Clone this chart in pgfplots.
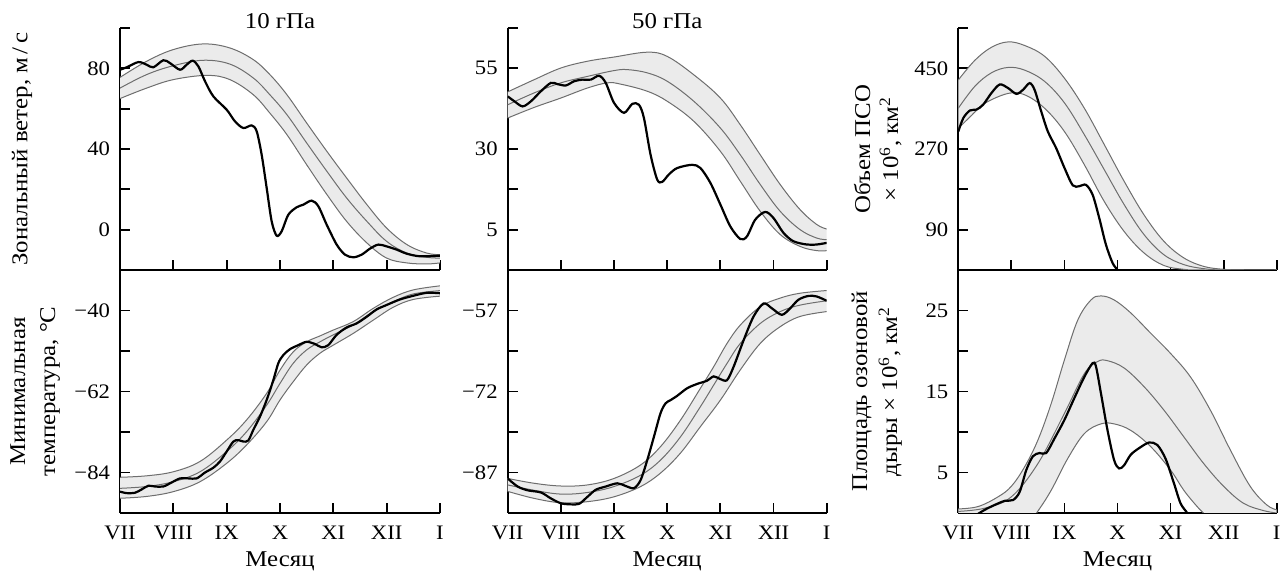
\documentclass[border=0pt]{standalone}
\usepackage{fontspec}
\setmainfont{Liberation Serif}[FakeStretch=1.1]
\usepackage{pgfplots}
\pgfplotsset{compat=1.18}
\usepgfplotslibrary{fillbetween}
\definecolor{bandfill}{RGB}{235,235,235}
\definecolor{bandline}{RGB}{110,110,110}
\newcommand{\ticksize}{\fontsize{10.3}{12}\selectfont}
\newcommand{\labsize}{\fontsize{11.3}{15}\selectfont}
\pgfplotsset{
 panel/.style={
  scale only axis, height=121pt,
  axis x line*=bottom, axis y line*=left,
  axis line style={line width=1pt,-},
  every outer x axis line/.append style={-},
  every outer y axis line/.append style={-},
  major tick style={line width=0.9pt, black},
  major tick length=5pt,
  tick align=inside,
  xmin=0, xmax=6, xtick={0,1,2,3,4,5,6},
  tick label style={font=\ticksize},
  yticklabel style={xshift=-1.5pt},
  every axis y label/.style={rotate=90, anchor=center, font=\labsize, align=center},
  /pgf/number format/assume math mode=true,
 },
 toprow/.style={xticklabels={}},
 botrow/.style={xticklabels={VII,VIII,IX,X,XI,XII,I},
   xticklabel style={anchor=base, yshift=-13.5pt},
   xlabel={Месяц},
   every axis x label/.style={at={(axis description cs:0.5,0)}, anchor=base, yshift=-26.8pt, font=\labsize}},
 band/.style={draw=bandline, line width=0.5pt, smooth, tension=0.6},
 obs/.style={black, line width=1.1pt, smooth, tension=0.5},
 ttl/.style={every axis title/.style={at={(axis description cs:0.5,1)}, anchor=base, yshift=-0.5pt, font=\fontsize{11.3}{12}\selectfont}},
}
\begin{document}
\begin{tikzpicture}
% ---------- P1: zonal wind 10 hPa
\begin{axis}[panel, toprow, ttl, title={10 гПа}, width=160pt, at={(60pt,-135pt)}, anchor=south west,
  ymin=-20, ymax=100, ytick={0,20,40,60,80,100}, yticklabels={0,,40,,80,},
  ylabel={Зональный ветер, м\,/\,с}, ylabel style={at={(axis description cs:-0.306,0.5)}}]
\addplot[band, name path=U] coordinates {(0,75.5)(0.5,83.5)(1,89.3)(1.56,92.1)(2.06,90.1)(2.5,84.3)(2.81,76.9)(3.13,66.9)(3.5,52.9)(3.88,38.8)(4.25,25.6)(4.63,12.4)(5,0.8)(5.38,-7.4)(5.75,-11.6)(6,-12.4)};
\addplot[band, name path=L] coordinates {(0,65)(0.5,70.2)(1,74.4)(1.63,76.5)(2.06,74.4)(2.5,66.9)(2.81,57.8)(3.13,47.1)(3.5,32.2)(3.88,17.4)(4.25,4.1)(4.63,-6.6)(5,-14.1)(5.38,-16.5)(5.75,-17)(6,-16.5)};
\addplot[fill=bandfill, draw=none] fill between[of=U and L];
\addplot[band] coordinates {(0,70.2)(0.5,76.9)(1,81.3)(1.56,84)(2.06,82.1)(2.5,75.2)(2.81,66.9)(3.13,57)(3.5,43)(3.88,28.9)(4.25,15.7)(4.63,4.1)(5,-5.8)(5.38,-11.6)(5.75,-13.7)(6,-14.1)};
\addplot[obs] coordinates {(0,79.3)(0.125,80.5)(0.344,83.1)(0.5,81.8)(0.625,80.5)(0.8125,84)(0.9375,82.6)(1.125,79.3)(1.25,81.8)(1.3625,83.8)(1.469,81)(1.594,73.6)(1.75,66.1)(2,59.5)(2.156,53.7)(2.3125,50.4)(2.469,51.7)(2.5625,48.8)(2.656,37.2)(2.75,20.7)(2.844,4.1)(2.9375,-3)(3.031,-0.8)(3.156,7.4)(3.3125,11.1)(3.4375,12.4)(3.594,14.4)(3.719,11.6)(3.875,2.5)(4.0625,-7.4)(4.219,-12.4)(4.375,-13.7)(4.531,-12.4)(4.6875,-9.4)(4.844,-7.4)(5,-8.3)(5.1875,-9.9)(5.375,-11.9)(5.625,-13.2)(6,-12.9)};
\end{axis}
% ---------- P2: min temperature 10 hPa
\begin{axis}[panel, botrow, width=160pt, at={(60pt,-256.5pt)}, anchor=south west, height=121.5pt,
  ymin=-95, ymax=-29, ytick={-84,-73,-62,-51,-40,-29}, yticklabels={−84,,−62,,−40,},
  ylabel={Минимальная\\температура, °C}, ylabel style={at={(axis description cs:-0.265,0.5)}}]
\addplot[band, name path=U] coordinates {(0,-85.3)(0.5,-84.9)(1,-83.8)(1.5,-81)(2,-75.2)(2.375,-69.7)(2.75,-62.5)(3,-56.2)(3.25,-51.2)(3.5,-48.5)(3.75,-46.9)(4,-45.3)(4.375,-43)(4.75,-39.4)(5.125,-36.4)(5.5,-34.4)(6,-33.3)};
\addplot[band, name path=L] coordinates {(0,-91)(0.5,-90.5)(1,-89.2)(1.5,-86.5)(2,-81.5)(2.375,-76.5)(2.75,-70.2)(3,-64.3)(3.25,-59.3)(3.5,-54.8)(3.75,-51.6)(4,-49.4)(4.375,-46.2)(4.75,-42.6)(5.125,-39.1)(5.5,-37)(6,-36.1)};
\addplot[fill=bandfill, draw=none] fill between[of=U and L];
\addplot[band] coordinates {(0,-88.3)(0.5,-87.8)(1,-86.5)(1.5,-83.8)(2,-78.3)(2.375,-72.9)(2.75,-65.7)(3,-59.8)(3.25,-54.3)(3.5,-50.7)(3.75,-48.5)(4,-46.6)(4.375,-43.9)(4.75,-40.3)(5.125,-37.6)(5.5,-35.5)(6,-34.6)};
\addplot[obs] coordinates {(0,-89.2)(0.125,-89.6)(0.281,-89.5)(0.406,-88.6)(0.531,-87.6)(0.656,-87.8)(0.8125,-87.8)(0.969,-86.7)(1.125,-85.6)(1.281,-85.6)(1.4375,-85.6)(1.594,-84)(1.75,-82.7)(1.875,-81)(2,-78.3)(2.125,-75.6)(2.219,-75.2)(2.3125,-75.6)(2.406,-75.3)(2.5,-72.4)(2.625,-68.8)(2.75,-64.3)(2.875,-58.9)(2.969,-54.3)(3.0625,-52.1)(3.1875,-50.5)(3.344,-49.4)(3.5,-48.5)(3.656,-49.1)(3.781,-50)(3.906,-49.4)(4.0625,-46.6)(4.25,-44.6)(4.4375,-43.5)(4.625,-41.7)(4.8125,-39.7)(5,-38.5)(5.25,-37)(5.5,-36)(5.75,-35.2)(6,-35.3)};
\end{axis}
% ---------- P3: zonal wind 50 hPa
\begin{axis}[panel, toprow, ttl, title={50 гПа}, width=159.5pt, at={(253.85pt,-135pt)}, anchor=south west,
  ymin=-7.5, ymax=67.5, ytick={5,17.5,30,42.5,55,67.5}, yticklabels={5,,30,,55,}]
\addplot[band, name path=U] coordinates {(0,47.7)(0.5,51.5)(1,55.1)(1.5,57.2)(2,58.5)(2.625,60)(3,58.7)(3.5,53)(4,45.8)(4.375,37.5)(4.75,28.2)(5.125,19)(5.5,11.2)(5.8125,6.6)(6,5.2)};
\addplot[band, name path=L] coordinates {(0,39.6)(0.5,42.9)(1,45.8)(1.5,48.9)(1.875,50.5)(2.125,50.1)(2.625,47.9)(3,44.8)(3.5,38.6)(4,29.3)(4.375,20)(4.75,10.7)(5.125,3.5)(5.5,-0.2)(5.8125,-1.5)(6,-1.5)};
\addplot[fill=bandfill, draw=none] fill between[of=U and L];
\addplot[band] coordinates {(0,43.7)(0.5,47.4)(1,50.5)(1.5,52.5)(2,54.3)(2.25,54.6)(2.625,53.6)(3,51)(3.5,44.8)(4,36.5)(4.375,28.2)(4.75,19)(5.125,10.7)(5.5,5)(5.8125,2.4)(6,1.9)};
\addplot[obs] coordinates {(0,46.3)(0.125,44.8)(0.281,43.2)(0.4375,44.8)(0.625,47.9)(0.8125,50.5)(0.9375,50.1)(1.094,49.7)(1.25,51)(1.406,51.5)(1.5625,51.5)(1.719,52.7)(1.844,50.5)(2,44.3)(2.1875,41.2)(2.344,44)(2.469,43.7)(2.5625,39.6)(2.6875,28.2)(2.8125,20.5)(2.906,19.8)(3.031,22.1)(3.1875,24.1)(3.469,25.1)(3.625,24.1)(3.8125,19.5)(4,12.8)(4.1875,6)(4.375,2.1)(4.5,2.9)(4.656,8.1)(4.844,10.5)(5,8.6)(5.1875,4)(5.375,1.4)(5.625,0.4)(5.8125,0.4)(6,0.9)};
\end{axis}
% ---------- P4: min temperature 50 hPa
\begin{axis}[panel, botrow, width=159.5pt, at={(253.85pt,-256.5pt)}, anchor=south west, height=121.5pt,
  ymin=-94.5, ymax=-49.5, ytick={-87,-79.5,-72,-64.5,-57,-49.5}, yticklabels={−87,,−72,,−57,}]
\addplot[band, name path=U] coordinates {(0,-88.1)(0.5,-89)(1,-89.5)(1.5,-89.3)(2,-88.1)(2.5,-85.6)(2.875,-82.2)(3.25,-77.3)(3.625,-71.4)(3.875,-67.4)(4.125,-63.1)(4.375,-59.7)(4.75,-56.3)(5.125,-54.7)(5.5,-53.8)(6,-53.3)};
\addplot[band, name path=L] coordinates {(0,-90.5)(0.5,-91.8)(1,-92.6)(1.5,-92.4)(2,-91.5)(2.5,-89.6)(2.875,-87.1)(3.25,-83.4)(3.625,-78.5)(4,-73.6)(4.375,-68)(4.75,-63.1)(5.125,-60)(5.5,-58.1)(6,-57.2)};
\addplot[fill=bandfill, draw=none] fill between[of=U and L];
\addplot[band] coordinates {(0,-89.3)(0.5,-90.3)(1,-91)(1.5,-90.7)(2,-89.6)(2.5,-87.5)(2.875,-84.7)(3.25,-80.4)(3.625,-74.8)(3.875,-70.8)(4.125,-66.8)(4.375,-63.1)(4.75,-59.4)(5.125,-57.2)(5.5,-56)(6,-55.2)};
\addplot[obs] coordinates {(0,-88.1)(0.1875,-89.6)(0.375,-90.3)(0.625,-90.7)(0.8125,-91.8)(1,-92.7)(1.1875,-92.9)(1.344,-92.8)(1.5,-91.5)(1.656,-90.2)(1.844,-89.6)(2.0625,-89)(2.219,-89.5)(2.375,-89.9)(2.5,-88.4)(2.625,-84.7)(2.75,-80.4)(2.875,-76)(2.969,-74.2)(3.0625,-73.6)(3.1875,-72.8)(3.375,-71.4)(3.5625,-70.6)(3.75,-70)(3.875,-69.2)(4,-69.7)(4.125,-69.9)(4.25,-67.4)(4.4375,-62.5)(4.625,-58.1)(4.8125,-55.7)(4.969,-56.6)(5.156,-57.8)(5.3125,-56.6)(5.469,-55)(5.656,-54.3)(5.8125,-54.4)(6,-55.2)};
\end{axis}
% ---------- P5: PSC volume
\begin{axis}[panel, toprow, width=159.2pt, at={(479.15pt,-135pt)}, anchor=south west,
  ymin=0, ymax=540, ytick={90,180,270,360,450,540}, yticklabels={90,,270,,450,},
  ylabel={Объем ПСО\\× 10\textsuperscript{6}, км\textsuperscript{2}}, ylabel style={at={(axis description cs:-0.253,0.5)}, font=\fontsize{11.3}{14}\selectfont}]
\addplot[band, name path=U] coordinates {(0,424)(0.3125,468)(0.625,497)(0.9375,509)(1.25,501)(1.625,477)(2,428)(2.375,361)(2.75,280)(3.125,198)(3.5,123)(3.875,64)(4.25,27)(4.625,8)(5,1.5)(5.375,0)(6,0)};
\addplot[band, name path=L] coordinates {(0,316)(0.25,345)(0.5,372)(0.9375,394)(1.25,391)(1.625,361)(2,309)(2.375,235)(2.75,153)(3.125,86)(3.5,38)(3.875,10)(4.25,1.5)(4.625,0)(6,0)};
\addplot[fill=bandfill, draw=none] fill between[of=U and L];
\addplot[band] coordinates {(0,361)(0.3125,410)(0.625,440)(0.9375,452)(1.25,446)(1.625,421)(2,373)(2.375,302)(2.75,224)(3.125,146)(3.5,79)(3.875,34)(4.25,12)(4.625,3)(5,0)(6,0)};
\addplot[obs] coordinates {(0,309)(0.094,339)(0.219,356)(0.344,358)(0.469,369)(0.625,395)(0.781,414)(0.9375,406)(1.094,393)(1.219,402)(1.344,417)(1.4375,402)(1.5625,354)(1.6875,309)(1.844,272)(2,228)(2.156,189)(2.281,187)(2.406,190)(2.531,168)(2.656,116)(2.781,57)(2.906,16)(3,0)(3.0625,-15)};
\end{axis}
% ---------- P6: ozone hole area
\begin{axis}[panel, botrow, width=159.2pt, at={(479.15pt,-256.5pt)}, anchor=south west, height=121.5pt,
  ymin=0, ymax=30, ytick={5,10,15,20,25,30}, yticklabels={5,,15,,25,},
  ylabel={Площадь озоновой\\дыры × 10\textsuperscript{6}, км\textsuperscript{2}}, ylabel style={at={(axis description cs:-0.256,0.5)}}]
\addplot[band, name path=U] coordinates {(0,0.5)(0.375,0.8)(0.75,2)(1,3.3)(1.25,5.7)(1.5,9)(1.75,13.5)(2,18.9)(2.25,23.8)(2.5,26.3)(2.6875,26.8)(2.9375,26.3)(3.25,24.7)(3.625,22.2)(4,19.7)(4.375,16.8)(4.75,12.7)(5.125,7.8)(5.5,3.3)(5.8125,1)(6,0.4)};
\addplot[band, name path=L] coordinates {(0,-10)(0.6,-7)(1.1,-3.3)(1.475,0)(1.75,2.8)(2.06,6.7)(2.375,9.8)(2.6875,11)(2.9375,11)(3.25,10.2)(3.625,8.2)(4,5.3)(4.25,2.8)(4.5,0.8)(4.6875,-0.5)(5,-3)(6,-10)};
\addplot[fill=bandfill, draw=none] fill between[of=U and L];
\addplot[band] coordinates {(0,0.2)(0.5,0.6)(1,2)(1.5,6.1)(2,12.3)(2.375,17.2)(2.625,18.7)(2.8125,18.8)(3.125,17.9)(3.5,15.6)(3.875,12.7)(4.25,9.4)(4.625,6.1)(5,3.3)(5.375,1.2)(5.75,0.3)(6,0)};
\addplot[obs] coordinates {(0.35,-0.2)(0.5,0.4)(0.6875,1)(0.875,1.5)(1.031,1.6)(1.156,2.6)(1.281,5.3)(1.406,7)(1.531,7.4)(1.656,7.4)(1.8125,9.2)(2,11.5)(2.1875,14.2)(2.375,16.8)(2.531,18.5)(2.594,18.1)(2.6875,14.8)(2.8125,10.2)(2.9375,6.5)(3.031,5.5)(3.125,5.9)(3.25,7.2)(3.406,8)(3.594,8.7)(3.75,8.4)(3.906,6.7)(4.0625,3.7)(4.1875,1.2)(4.3125,0)(4.375,-1)};
\end{axis}
\pgfresetboundingbox
\path[use as bounding box] (0,0) rectangle (640.5pt,-285.5pt);
\end{tikzpicture}
\end{document}
